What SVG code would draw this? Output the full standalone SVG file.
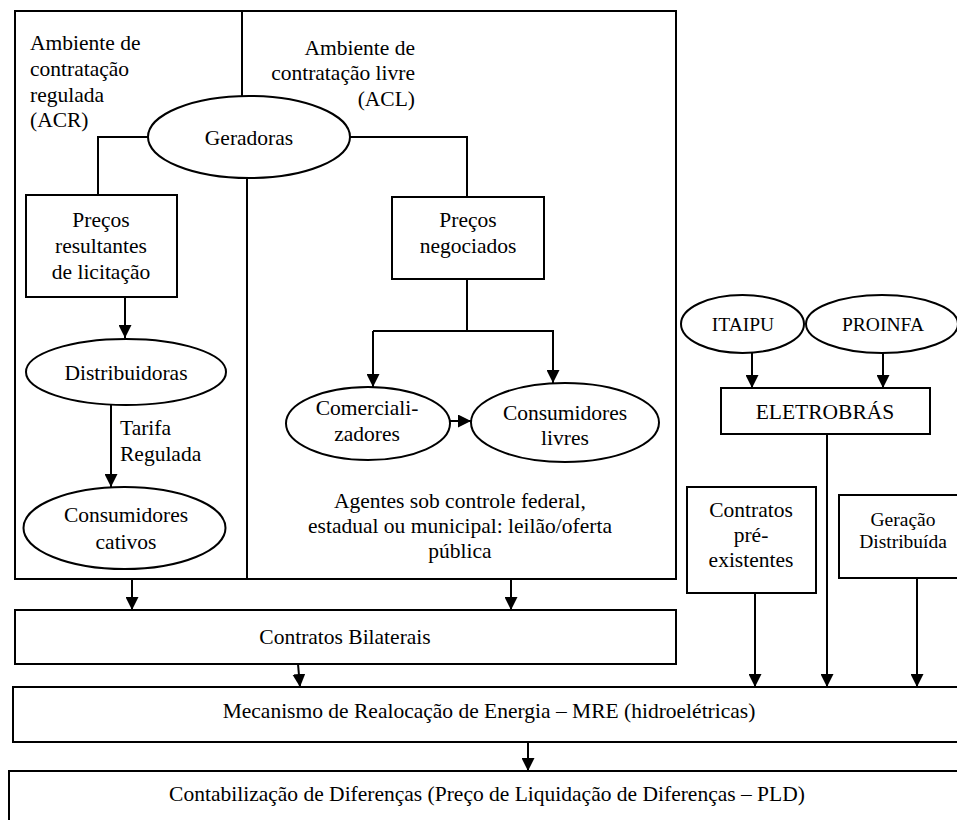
<svg xmlns="http://www.w3.org/2000/svg" width="957" height="820" viewBox="0 0 957 820" font-family="'Liberation Serif', 'Times New Roman', Tinos, 'DejaVu Serif', serif">
<style>
.s{fill:none;stroke:#000;stroke-width:2}
.n{fill:#fff;stroke:#000;stroke-width:2}
text{font-family:'Liberation Serif','Times New Roman',Tinos,'DejaVu Serif',serif;font-size:21.5px;fill:#000}
.m{text-anchor:middle}
.e{text-anchor:end}
.sm{font-size:19.5px}
</style>
<defs>
<marker id="a" markerUnits="userSpaceOnUse" markerWidth="13" markerHeight="13" refX="13" refY="6.5" orient="auto">
<path d="M0,0 L13,6.5 L0,13 z" fill="#000"/>
</marker>
</defs>
<rect width="957" height="820" fill="#fff"/>
<g id="frame">
<rect class="s" x="15" y="11" width="661" height="568"/>
<line class="s" x1="242" y1="11" x2="242" y2="97"/>
<line class="s" x1="247" y1="178" x2="247" y2="579"/>
<text x="30" y="50">Ambiente de</text>
<text x="30" y="76">contratação</text>
<text x="30" y="102">regulada</text>
<text x="30" y="127">(ACR)</text>
<text class="e" x="415" y="55">Ambiente de</text>
<text class="e" x="415" y="80">contratação livre</text>
<text class="e" x="415" y="106">(ACL)</text>
<text class="m" x="460" y="508">Agentes sob controle federal,</text>
<text class="m" x="460" y="533">estadual ou municipal: leilão/oferta</text>
<text class="m" x="460" y="558">pública</text>
</g>
<g id="connectors">
<polyline class="s" points="148,137 98,137 98,195"/>
<polyline class="s" points="350,137 467,137 467,197"/>
<line class="s" x1="125" y1="297" x2="125" y2="338" marker-end="url(#a)"/>
<line class="s" x1="111" y1="405" x2="111" y2="487" marker-end="url(#a)"/>
<line class="s" x1="467" y1="279" x2="467" y2="331"/>
<polyline class="s" points="373,331 553,331 553,383" marker-end="url(#a)"/>
<line class="s" x1="373" y1="331" x2="373" y2="387" marker-end="url(#a)"/>
<line class="s" x1="450" y1="421" x2="471" y2="421" marker-end="url(#a)"/>
<line class="s" x1="132" y1="579" x2="132" y2="610" marker-end="url(#a)"/>
<line class="s" x1="511" y1="579" x2="511" y2="610" marker-end="url(#a)"/>
<line class="s" x1="298" y1="664" x2="300" y2="687" marker-end="url(#a)"/>
<line class="s" x1="752" y1="353" x2="752" y2="388" marker-end="url(#a)"/>
<line class="s" x1="883" y1="353" x2="883" y2="388" marker-end="url(#a)"/>
<line class="s" x1="827" y1="434" x2="827" y2="687" marker-end="url(#a)"/>
<line class="s" x1="755" y1="593" x2="755" y2="687" marker-end="url(#a)"/>
<line class="s" x1="917" y1="578" x2="917" y2="687" marker-end="url(#a)"/>
<line class="s" x1="528" y1="742" x2="528" y2="771" marker-end="url(#a)"/>
</g>
<g id="geradoras">
<ellipse class="n" cx="249" cy="137" rx="101" ry="41"/>
<text class="m" x="249" y="145">Geradoras</text>
</g>
<g id="precos-licitacao">
<rect class="n" x="26" y="195" width="151" height="102"/>
<text class="m" x="101" y="227">Preços</text>
<text class="m" x="101" y="253">resultantes</text>
<text class="m" x="101" y="279">de licitação</text>
</g>
<g id="distribuidoras">
<ellipse class="n" cx="126" cy="372" rx="100" ry="33"/>
<text class="m" x="126" y="380">Distribuidoras</text>
</g>
<g id="tarifa">
<text x="120" y="435">Tarifa</text>
<text x="120" y="461">Regulada</text>
</g>
<g id="consumidores-cativos">
<ellipse class="n" cx="124.5" cy="528" rx="101" ry="41"/>
<text class="m" x="126" y="522">Consumidores</text>
<text class="m" x="126" y="549">cativos</text>
</g>
<g id="precos-negociados">
<rect class="n" x="392" y="197" width="152" height="82"/>
<text class="m" x="468" y="227">Preços</text>
<text class="m" x="468" y="253">negociados</text>
</g>
<g id="comercializadores">
<ellipse class="n" cx="368" cy="423.5" rx="82" ry="36.5"/>
<text class="m" x="367" y="415">Comerciali-</text>
<text class="m" x="367" y="441">zadores</text>
</g>
<g id="consumidores-livres">
<ellipse class="n" cx="565" cy="422.5" rx="94" ry="39.5"/>
<text class="m" x="565" y="420">Consumidores</text>
<text class="m" x="565" y="445">livres</text>
</g>
<g id="itaipu">
<ellipse class="n" cx="742.5" cy="324" rx="61.5" ry="29"/>
<text class="m sm" x="743" y="331">ITAIPU</text>
</g>
<g id="proinfa">
<ellipse class="n" cx="882" cy="324" rx="76" ry="29"/>
<text class="m sm" x="883" y="331">PROINFA</text>
</g>
<g id="eletrobras">
<rect class="n" x="721" y="388" width="209" height="46"/>
<text class="m" x="825" y="419">ELETROBRÁS</text>
</g>
<g id="contratos-pre">
<rect class="n" x="687" y="487" width="129" height="106"/>
<text class="m" x="751" y="517">Contratos</text>
<text class="m" x="751" y="542">pré-</text>
<text class="m" x="751" y="567">existentes</text>
</g>
<g id="geracao-distribuida">
<rect class="n" x="839" y="495" width="125" height="83"/>
<text class="m sm" x="903" y="526">Geração</text>
<text class="m sm" x="903" y="548">Distribuída</text>
</g>
<g id="contratos-bilaterais">
<rect class="n" x="15" y="610" width="661" height="54"/>
<text class="m" x="345" y="644">Contratos Bilaterais</text>
</g>
<g id="mre">
<rect class="n" x="13" y="687" width="960" height="55"/>
<text class="m" x="489" y="718">Mecanismo de Realocação de Energia – MRE (hidroelétricas)</text>
</g>
<g id="contabilizacao">
<rect class="n" x="9" y="771" width="970" height="70"/>
<text class="m" x="487" y="801">Contabilização de Diferenças (Preço de Liquidação de Diferenças – PLD)</text>
</g>
</svg>
